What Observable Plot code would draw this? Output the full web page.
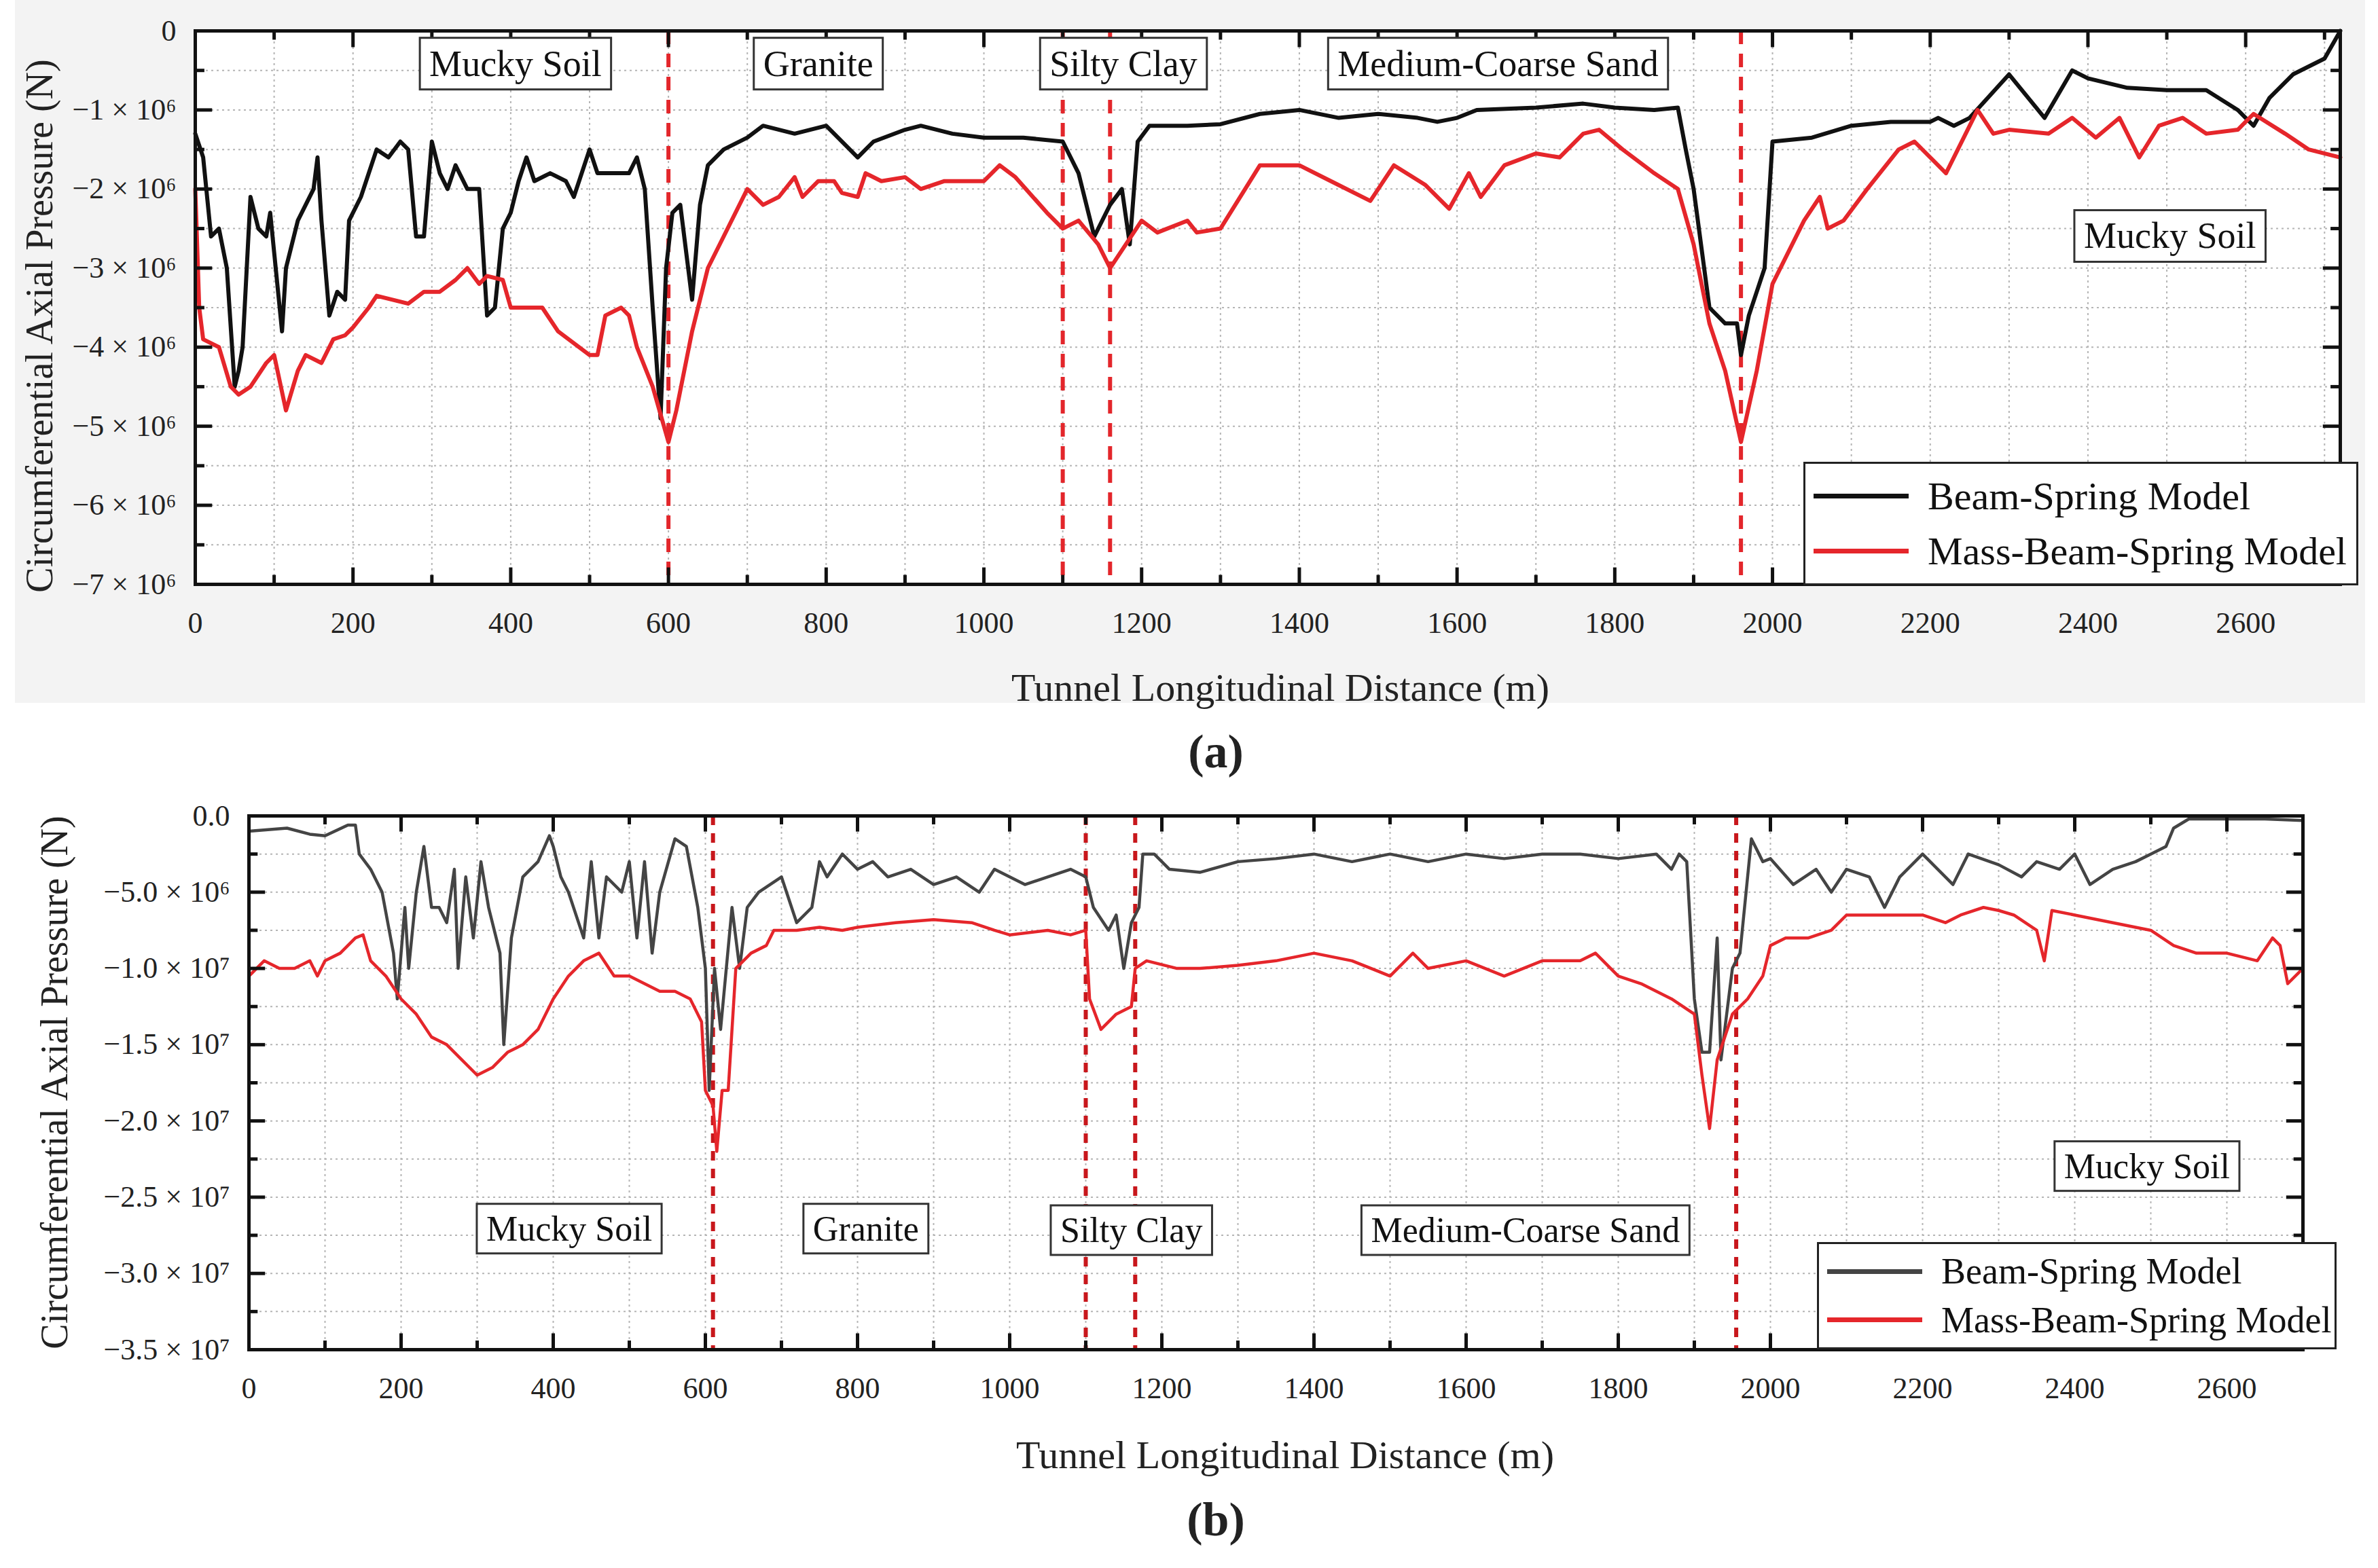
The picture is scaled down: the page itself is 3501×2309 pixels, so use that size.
<!DOCTYPE html>
<html><head><meta charset="utf-8">
<script src="https://cdn.jsdelivr.net/npm/d3@7"></script>
<script src="https://cdn.jsdelivr.net/npm/@observablehq/plot@0.6"></script>
<style>
body{margin:0;background:#fff;width:3501px;height:2309px;position:relative;overflow:hidden;font-family:"Liberation Serif",serif;}
.abs{position:absolute;font-family:"Liberation Serif",serif;color:#222;white-space:nowrap;}
.leg{position:absolute;border:3px solid #222;background:#fff;font-family:"Liberation Serif",serif;color:#111;}
.leg div{display:flex;align-items:center;}
.leg span.sw{display:inline-block;margin-right:28px;}
</style></head><body>
<div style="position:absolute;left:22px;top:0;width:3460px;height:1035px;background:#f3f3f3"></div>
<div id="a" style="position:absolute;left:0;top:0"></div>
<div id="b" style="position:absolute;left:0;top:1150px"></div>
<script>
// ---------- Panel (a) data (N, x1e6) ----------
const aBeamX=[0,10,20,30,40,50,55,60,70,80,90,95,100,110,115,130,140,150,155,160,170,180,190,195,210,220,230,245,260,270,280,290,300,310,320,330,345,360,370,380,390,400,410,420,430,450,470,480,500,510,530,550,560,570,580,590,597,605,615,630,640,650,670,700,720,760,800,830,840,860,900,920,960,1000,1050,1100,1120,1140,1160,1175,1185,1195,1210,1258,1300,1350,1400,1450,1500,1550,1575,1600,1625,1700,1760,1800,1850,1880,1890,1900,1920,1940,1955,1960,1970,1990,2000,2050,2100,2150,2200,2210,2230,2250,2300,2345,2380,2400,2450,2500,2550,2590,2610,2630,2660,2700,2720];
const aBeamY=[-1.3,-1.6,-2.6,-2.5,-3.0,-4.5,-4.3,-4.0,-2.1,-2.5,-2.6,-2.3,-2.8,-3.8,-3.0,-2.4,-2.2,-2.0,-1.6,-2.4,-3.6,-3.3,-3.4,-2.4,-2.1,-1.8,-1.5,-1.6,-1.4,-1.5,-2.6,-2.6,-1.4,-1.8,-2.0,-1.7,-2.0,-2.0,-3.6,-3.5,-2.5,-2.3,-1.9,-1.6,-1.9,-1.8,-1.9,-2.1,-1.5,-1.8,-1.8,-1.8,-1.6,-2.0,-3.5,-4.9,-3.0,-2.3,-2.2,-3.4,-2.2,-1.7,-1.5,-1.35,-1.2,-1.3,-1.2,-1.5,-1.6,-1.4,-1.25,-1.2,-1.3,-1.35,-1.35,-1.4,-1.8,-2.6,-2.2,-2.0,-2.7,-1.4,-1.2,-1.2,-1.18,-1.05,-1.0,-1.1,-1.05,-1.1,-1.15,-1.1,-1.0,-0.97,-0.92,-0.97,-1.0,-0.97,-1.5,-2.0,-3.5,-3.7,-3.7,-4.1,-3.6,-3.0,-1.4,-1.35,-1.2,-1.15,-1.15,-1.1,-1.2,-1.1,-0.55,-1.1,-0.5,-0.6,-0.72,-0.75,-0.75,-1.0,-1.2,-0.85,-0.55,-0.35,0];
const aMassX=[0,5,10,30,45,55,70,90,100,115,130,140,160,175,190,200,220,230,250,270,290,310,330,345,360,370,390,400,420,440,460,480,500,510,520,540,550,560,580,600,610,630,650,670,700,720,740,760,770,790,810,820,840,850,870,900,920,950,1000,1020,1040,1080,1100,1120,1145,1160,1180,1200,1220,1258,1270,1300,1350,1400,1440,1490,1520,1560,1590,1615,1630,1660,1700,1730,1760,1780,1810,1850,1880,1900,1920,1940,1960,1980,2000,2040,2060,2070,2090,2120,2160,2180,2220,2260,2280,2300,2350,2380,2410,2440,2465,2490,2520,2550,2590,2610,2650,2680,2720];
const aMassY=[-2.0,-3.5,-3.9,-4.0,-4.5,-4.6,-4.5,-4.2,-4.1,-4.8,-4.3,-4.1,-4.2,-3.9,-3.85,-3.75,-3.5,-3.35,-3.4,-3.45,-3.3,-3.3,-3.15,-3.0,-3.2,-3.1,-3.15,-3.5,-3.5,-3.5,-3.8,-3.95,-4.1,-4.1,-3.6,-3.5,-3.6,-4.0,-4.5,-5.2,-4.8,-3.8,-3.0,-2.6,-2.0,-2.2,-2.1,-1.85,-2.1,-1.9,-1.9,-2.05,-2.1,-1.8,-1.9,-1.85,-2.0,-1.9,-1.9,-1.7,-1.85,-2.3,-2.5,-2.4,-2.7,-3.0,-2.7,-2.4,-2.55,-2.4,-2.55,-2.5,-1.7,-1.7,-1.9,-2.15,-1.7,-1.95,-2.25,-1.8,-2.1,-1.7,-1.55,-1.6,-1.3,-1.25,-1.5,-1.8,-2.0,-2.7,-3.7,-4.3,-5.2,-4.3,-3.2,-2.4,-2.1,-2.5,-2.4,-2.0,-1.5,-1.4,-1.8,-1.0,-1.3,-1.25,-1.3,-1.1,-1.35,-1.1,-1.6,-1.2,-1.1,-1.3,-1.25,-1.05,-1.3,-1.5,-1.6];
// ---------- Panel (b) data (N, x1e6) ----------
const bBeamX=[0,50,80,100,130,140,145,160,175,190,195,200,205,210,220,230,240,250,260,270,275,285,295,305,315,330,335,345,360,380,395,400,410,420,440,450,460,470,490,500,510,520,530,540,560,575,590,600,605,612,620,635,645,655,670,700,720,740,750,760,780,800,820,840,870,900,930,960,980,1000,1020,1050,1080,1100,1110,1130,1140,1150,1160,1170,1175,1190,1210,1250,1300,1350,1400,1450,1500,1550,1600,1650,1700,1750,1800,1850,1870,1880,1890,1900,1910,1920,1930,1935,1950,1960,1975,1990,2000,2030,2060,2080,2100,2130,2150,2170,2200,2240,2260,2300,2330,2350,2380,2400,2420,2450,2480,2500,2520,2530,2550,2650,2700];
const bBeamY=[-1.0,-0.8,-1.2,-1.3,-0.6,-0.6,-2.5,-3.5,-5,-9,-12,-9,-6,-10,-5,-2,-6,-6,-7,-3.5,-10,-4,-8,-3,-6,-9,-15,-8,-4,-3,-1.3,-2,-4,-5,-8,-3,-8,-4,-5,-3,-8,-3,-9,-5,-1.5,-2,-6,-10,-18,-10,-14,-6,-10,-6,-5,-4,-7,-6,-3,-4,-2.5,-3.5,-3,-4,-3.5,-4.5,-4,-5,-3.5,-4,-4.5,-4,-3.5,-4,-6,-7.5,-6.5,-10,-7,-6,-2.5,-2.5,-3.5,-3.7,-3.0,-2.8,-2.5,-3.0,-2.5,-3.0,-2.5,-2.8,-2.5,-2.5,-2.8,-2.5,-3.5,-2.5,-3.0,-12,-15.5,-15.5,-8,-16,-10,-9,-1.5,-3,-2.8,-4.5,-3.5,-5,-3.5,-4,-6,-4,-2.5,-4.5,-2.5,-3.2,-4,-3,-3.5,-2.5,-4.5,-3.5,-3,-2.5,-2,-0.8,-0.2,-0.2,-0.3];
const bMassX=[0,20,40,60,80,90,100,120,140,150,160,180,200,220,240,260,280,300,320,340,360,380,400,420,440,460,480,500,520,540,560,580,595,600,610,615,622,630,640,660,680,690,720,750,780,800,850,900,950,980,1000,1050,1080,1100,1105,1120,1140,1160,1165,1180,1220,1250,1300,1350,1400,1450,1500,1530,1550,1600,1650,1700,1750,1770,1800,1830,1850,1870,1900,1910,1920,1930,1950,1970,1990,2000,2020,2050,2080,2100,2150,2200,2230,2250,2280,2300,2320,2350,2360,2370,2400,2450,2500,2530,2560,2600,2640,2660,2670,2680,2700];
const bMassY=[-10.5,-9.5,-10,-10,-9.5,-10.5,-9.5,-9,-8,-7.8,-9.5,-10.5,-12,-13,-14.5,-15,-16,-17,-16.5,-15.5,-15,-14,-12,-10.5,-9.5,-9,-10.5,-10.5,-11,-11.5,-11.5,-12,-13.5,-18,-19,-22,-18,-18,-10,-9,-8.5,-7.5,-7.5,-7.3,-7.5,-7.3,-7,-6.8,-7,-7.5,-7.8,-7.5,-7.8,-7.5,-12,-14,-13,-12.5,-10,-9.5,-10,-10,-9.8,-9.5,-9,-9.5,-10.5,-9,-10,-9.5,-10.5,-9.5,-9.5,-9,-10.5,-11,-11.5,-12,-13,-17,-20.5,-16,-13,-12,-10.5,-8.5,-8,-8,-7.5,-6.5,-6.5,-6.5,-7,-6.5,-6,-6.2,-6.5,-7.5,-9.5,-6.2,-6.5,-7,-7.5,-8.5,-9,-9,-9.5,-8,-8.5,-11,-10];
// ---------- annotations ----------
const aBounds=[600,1100,1160,1960];
const bBounds=[610,1100,1165,1955];
const aZones=[{t:"Mucky Soil",x:406,y:-0.42},{t:"Granite",x:790,y:-0.42},{t:"Silty Clay",x:1177,y:-0.42},{t:"Medium-Coarse Sand",x:1652,y:-0.42},{t:"Mucky Soil",x:2504,y:-2.6}];
const bZones=[{t:"Mucky Soil",x:421,y:-27.1},{t:"Granite",x:811,y:-27.1},{t:"Silty Clay",x:1160,y:-27.2},{t:"Medium-Coarse Sand",x:1678,y:-27.2},{t:"Mucky Soil",x:2495,y:-23}];
const xTicks=d3.range(0,2601,200);
const aYTicks=d3.range(0,-7.01,-1);
const bYTicks=d3.range(0,-35.01,-5);
const seriesNames=["Beam-Spring Model","Mass-Beam-Spring Model"];

const sup={"6":"⁶","7":"⁷"};
function fmtA(v){return v===0?"0":"−"+Math.abs(v)+" × 10⁶";}
function fmtB(v){if(v===0)return "0.0"; const n=Math.abs(v)*1e6; const e=Math.floor(Math.log10(n)); return "−"+(n/10**e).toFixed(1)+" × 10"+sup[e];}
const zip=(X,Y)=>X.map((x,i)=>({x,y:Y[i]}));

function panel(o){
  const [y0,y1]=o.yDom; const xMax=o.xMax;
  const xMinor=d3.range(0,xMax,100);
  const yMinor=d3.range(0,y1-1e-9,o.yMinorStep);
  const tl=(y0-y1)*0.03, tlm=tl*0.55, xl=xMax*0.008, xlm=xl*0.55;
  const major=new Set(o.yTicks.map(v=>+v.toFixed(3)));
  const plot=Plot.plot({
    width:3501,height:o.height,marginLeft:o.ml,marginRight:o.mr,marginTop:o.mt,marginBottom:o.mb,
    style:{fontFamily:"Liberation Serif, serif",fontSize:"44px",color:"#222",background:"transparent"},
    x:{domain:[0,xMax],ticks:xTicks,tickFormat:d=>String(d),tickSize:0,tickPadding:o.xPad,label:null},
    y:{domain:[y1,y0],ticks:o.yTicks,tickFormat:o.fmt,tickSize:0,tickPadding:o.yPad,label:null},
    marks:[
      Plot.frame({fill:"white",stroke:"none"}),
      Plot.ruleX(xMinor.filter(d=>d>0),{stroke:"#b5b5b5",strokeWidth:2,strokeDasharray:"3,5"}),
      Plot.ruleY(yMinor.filter(d=>d<0&&d>y1),{stroke:"#b5b5b5",strokeWidth:2,strokeDasharray:"3,5"}),
      Plot.ruleX(o.bounds,{stroke:o.boundColor,strokeWidth:o.boundW,strokeDasharray:o.boundDash}),
      Plot.line(zip(o.beamX,o.beamY),{x:"x",y:"y",stroke:o.beamColor,strokeWidth:o.lw,curve:"linear"}),
      Plot.line(zip(o.massX,o.massY),{x:"x",y:"y",stroke:"#e5262b",strokeWidth:o.lw,curve:"linear"}),
      Plot.ruleX(xMinor,{y1:y1,y2:d=>y1+((d%200===0)?tl:tlm),stroke:"#111",strokeWidth:5}),
      Plot.ruleX(xMinor,{y1:y0,y2:d=>y0-((d%200===0)?tl:tlm),stroke:"#111",strokeWidth:5}),
      Plot.ruleY(yMinor,{x1:0,x2:d=>major.has(+d.toFixed(3))?xl:xlm,stroke:"#111",strokeWidth:5}),
      Plot.ruleY(yMinor,{x1:xMax,x2:d=>xMax-(major.has(+d.toFixed(3))?xl:xlm),stroke:"#111",strokeWidth:5}),
      Plot.frame({stroke:"#111",strokeWidth:5}),
      Plot.text(o.zones,{x:"x",y:"y",text:"t",fontSize:o.zfs,fill:"#111",className:"zone",fontFamily:"Liberation Serif, serif"})
    ]
  });
  document.getElementById(o.id).appendChild(plot);
  plot.querySelectorAll(".zone text").forEach(t=>{
    const b=t.getBBox(); const px=14, py=8;
    const r=document.createElementNS("http://www.w3.org/2000/svg","rect");
    r.setAttribute("x",b.x-px);r.setAttribute("y",b.y-py);r.setAttribute("width",b.width+2*px);r.setAttribute("height",b.height+2*py);
    r.setAttribute("fill","white");r.setAttribute("stroke","#333");r.setAttribute("stroke-width","3");
    const tr=t.getAttribute("transform"); if(tr) r.setAttribute("transform",tr);
    t.parentNode.insertBefore(r,t);
  });
  return plot;
}

panel({id:"a",height:1000,ml:287,mr:56,mt:45,mb:140,yDom:[0,-7],xMax:2720,yTicks:aYTicks,yMinorStep:-0.5,fmt:fmtA,
  xPad:40,yPad:28,bounds:aBounds,boundColor:"#e3262b",boundW:6,boundDash:"20,14",
  beamX:aBeamX,beamY:aBeamY,massX:aMassX,massY:aMassY,beamColor:"#111",lw:6,zones:aZones,zfs:54});
panel({id:"b",height:950,ml:366,mr:111,mt:51,mb:113,yDom:[0,-35],xMax:2700,yTicks:bYTicks,yMinorStep:-2.5,fmt:fmtB,
  xPad:40,yPad:28,bounds:bBounds,boundColor:"#c8171c",boundW:6,boundDash:"14,12",
  beamX:bBeamX,beamY:bBeamY,massX:bMassX,massY:bMassY,beamColor:"#444",lw:4.5,zones:bZones,zfs:52});

function addText(t,x,y,fs,rot,extra){
  const d=document.createElement("div");d.className="abs";d.textContent=t;
  d.style.fontSize=fs+"px";d.style.left=x+"px";d.style.top=y+"px";
  d.style.transform="translate(-50%,-50%)"+(rot?" rotate(-90deg)":"");
  if(extra) Object.assign(d.style,extra);
  document.body.appendChild(d);
}
addText("Tunnel Longitudinal Distance (m)",1885,1012,58);
addText("Circumferential Axial Pressure (N)",58,480,56,true);
addText("Tunnel Longitudinal Distance (m)",1892,2142,58);
addText("Circumferential Axial Pressure (N)",80,1594,56,true);
addText("(a)",1790,1107,70,false,{fontWeight:"bold"});
addText("(b)",1790,2238,70,false,{fontWeight:"bold"});
function legend(left,top,w,h,fs,colors){
  const L=document.createElement("div");L.className="leg";
  Object.assign(L.style,{left:left+"px",top:top+"px",width:w+"px",height:h+"px",fontSize:fs+"px",display:"flex",flexDirection:"column",justifyContent:"space-evenly",paddingLeft:"12px",boxSizing:"border-box"});
  seriesNames.forEach((n,i)=>{const r=document.createElement("div");
    const s=document.createElement("span");s.className="sw";Object.assign(s.style,{width:"140px",height:"7px",background:colors[i]});
    r.appendChild(s);r.appendChild(document.createTextNode(n));L.appendChild(r);});
  document.body.appendChild(L);
}
legend(2655,680,817,182,58,["#111","#e5262b"]);
legend(2675,1829,765,158,54,["#444","#e5262b"]);
</script></body></html>
